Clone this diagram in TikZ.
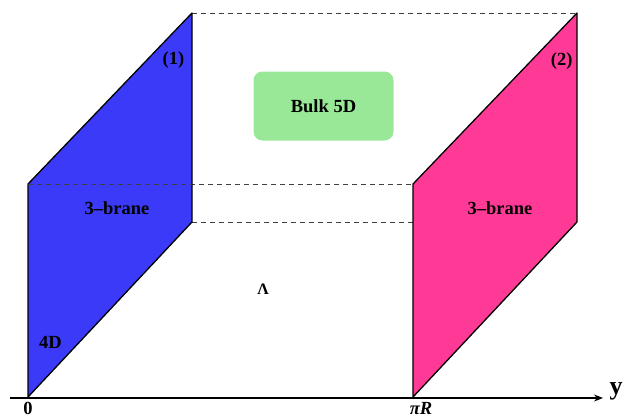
\documentclass[tikz,border=0pt]{standalone}
\usepackage{fontspec}
\setmainfont{Liberation Serif}
\usetikzlibrary{arrows.meta}
\definecolor{braneblue}{RGB}{58,58,248}
\definecolor{branepink}{RGB}{255,58,150}
\definecolor{bulkgreen}{RGB}{152,232,152}
\begin{document}
\begin{tikzpicture}[x=1pt,y=-1pt,
  brane/.style={draw=black,line width=1.3pt,line join=round},
  dashline/.style={draw=black!75,line width=0.7pt,dash pattern=on 5pt off 4pt},
  lbl/.style={font=\bfseries\fontsize{18.5}{20}\selectfont,inner sep=0pt},
  bulkbox/.style={fill=bulkgreen,rounded corners=9pt,minimum width=140pt,minimum height=69pt,inner sep=0pt,font=\bfseries\fontsize{18.5}{20}\selectfont}]
\useasboundingbox (0,0) rectangle (625,418);
% corners
\coordinate (A0) at (28,397);
\coordinate (A1) at (28,184);
\coordinate (A2) at (192,13);
\coordinate (A3) at (192,222);
\coordinate (B0) at (413,397);
\coordinate (B1) at (413,184);
\coordinate (B2) at (577,13);
\coordinate (B3) at (577,222);
\coordinate (axs) at (10,398);
\coordinate (axe) at (603,398);
% dashed lines
\draw[dashline] (A2) -- (B2);
\draw[dashline] (A1) -- (B1);
\draw[dashline] (A3) -- (B1 |- A3);
% branes
\path[fill=braneblue,brane] (A0) -- (A1) -- (A2) -- (A3) -- cycle;
\path[fill=branepink,brane] (B0) -- (B1) -- (B2) -- (B3) -- cycle;
\draw[dashline] (A1) -- (A2 |- A1);
% axis
\draw[line width=1.2pt,-{Stealth[length=9pt,width=7pt]}] (axs) -- (axe);
% labels
\node[lbl] (l1) at (173.5,60) {(1)};
\node[lbl] (l2) at (561.7,61) {(2)};
\node[lbl] (b1) at (117,208) {3–brane};
\node[lbl] (b2) at (500,208) {3–brane};
\node[lbl] (d4) at (50.5,342) {4D};
\node[lbl] (z0) at (28,408.5) {0};
\node[lbl,font=\bfseries\itshape\fontsize{18.5}{20}\selectfont] (pr) at (421,408.5) {πR};
\node[inner sep=0pt,font=\bfseries\fontsize{26}{28}\selectfont] (yy) at (616,391) {y};
\node[inner sep=0pt,font=\bfseries\fontsize{16}{18}\selectfont] (lam) at (263,289) {Λ};
\node[bulkbox] (bulk) at (323.5,106) {Bulk 5D};
\end{tikzpicture}
\end{document}
